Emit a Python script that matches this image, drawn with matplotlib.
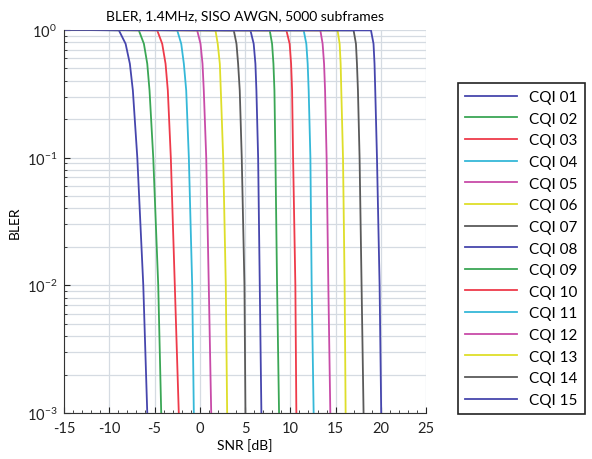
import matplotlib
matplotlib.use('Agg')
import matplotlib.pyplot as plt
from matplotlib.ticker import LogLocator, MultipleLocator, NullFormatter

plt.rcParams['font.family'] = ['Lato', 'DejaVu Sans']
plt.rcParams['axes.unicode_minus'] = False

# BLER levels at which the SNR of each curve was read
bler_levels = [1.0, 0.99, 0.777, 0.542, 0.335, 0.1, 0.01, 0.001]

# SNR [dB] at each BLER level (first point = left edge of plot)
cqi01 = [-15, -8.93, -8.19, -7.72, -7.39, -6.90, -6.24, -5.80]
cqi02 = [-15, -6.73, -6.17, -5.80, -5.55, -5.14, -4.59, -4.26]
cqi03 = [-15, -4.70, -4.15, -3.78, -3.53, -3.20, -2.76, -2.32]
cqi04 = [-15, -2.49, -2.05, -1.76, -1.50, -1.21, -0.84, -0.66]
cqi05 = [-15, -0.29, 0.08, 0.30, 0.44, 0.71, 0.99, 1.26]
cqi06 = [-15, 1.73, 1.98, 2.21, 2.32, 2.58, 2.87, 3.02]
cqi07 = [-15, 3.75, 4.05, 4.23, 4.41, 4.63, 4.93, 5.04]
cqi08 = [-15, 5.59, 5.95, 6.14, 6.25, 6.44, 6.62, 6.80]
cqi09 = [-15, 7.72, 7.98, 8.13, 8.24, 8.35, 8.53, 8.75]
cqi10 = [-15, 9.56, 9.92, 10.08, 10.19, 10.30, 10.55, 10.66]
cqi11 = [-15, 11.47, 11.76, 11.91, 12.02, 12.21, 12.35, 12.57]
cqi12 = [-15, 13.31, 13.56, 13.72, 13.83, 14.00, 14.19, 14.41]
cqi13 = [-15, 15.21, 15.44, 15.55, 15.62, 15.81, 15.99, 16.10]
cqi14 = [-15, 16.98, 17.24, 17.35, 17.46, 17.64, 17.86, 18.08]
cqi15 = [-15, 18.90, 19.18, 19.29, 19.37, 19.56, 19.85, 20.03]

curves = [cqi01, cqi02, cqi03, cqi04, cqi05, cqi06, cqi07, cqi08,
          cqi09, cqi10, cqi11, cqi12, cqi13, cqi14, cqi15]
labels = ['CQI %02d' % (i + 1) for i in range(15)]

palette = ['#4646ad', '#3aa655', '#ee3a4a', '#35b8d8', '#c84ba8', '#dede2a', '#5a5a5a']
colors = [palette[i % 7] for i in range(15)]

fig = plt.figure(figsize=(5.92, 4.6), dpi=100)
ax = fig.add_axes([0.108, 0.1, 0.612, 0.833])

for snr, lab, c in zip(curves, labels, colors):
    ax.plot(snr, bler_levels, color=c, lw=1.3, label=lab)

ax.set_yscale('log')
ax.set_xlim(-15, 25)
ax.set_ylim(1e-3, 1)
ax.xaxis.set_major_locator(MultipleLocator(5))
ax.xaxis.set_minor_locator(MultipleLocator(1))
ax.yaxis.set_minor_locator(LogLocator(base=10, subs=range(2, 10)))
ax.yaxis.set_minor_formatter(NullFormatter())
ax.grid(True, which='major', color='#d5dbe2', lw=0.9)
ax.grid(True, which='minor', axis='y', color='#d5dbe2', lw=0.9)
ax.set_axisbelow(True)
ax.tick_params(which='both', direction='in', labelsize=10.5, colors='#222222')
ax.tick_params(which='major', length=4)
ax.tick_params(which='minor', length=2)
ax.tick_params(axis='x', pad=6)
ax.tick_params(axis='y', pad=5)
for s in ['top', 'right']:
    ax.spines[s].set_visible(False)
for s in ['left', 'bottom']:
    ax.spines[s].set_color('#333333')

ax.set_title('BLER, 1.4MHz, SISO AWGN, 5000 subframes', fontsize=10, pad=8)
ax.set_xlabel('SNR [dB]', fontsize=10, labelpad=2)
ax.set_ylabel('BLER', fontsize=10)

leg = fig.legend(loc='upper left', bbox_to_anchor=(0.774, 0.817, 0.215, 0.0),
                 mode='expand', fontsize=11, handlelength=3.4,
                 fancybox=False, edgecolor='#222222', framealpha=1,
                 labelspacing=0.5, borderpad=0.45, borderaxespad=0)
leg.get_frame().set_linewidth(1.2)

fig.savefig('out.png', dpi=100)
